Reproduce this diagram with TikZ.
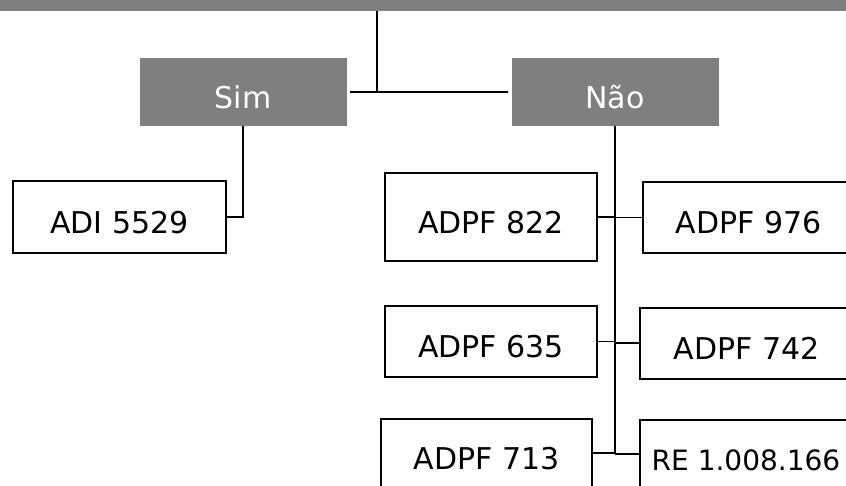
\documentclass[tikz,border=0pt]{standalone}
\usepackage{fontspec}
\setmainfont{DejaVu Sans}
\definecolor{cinza}{HTML}{7F7F7F}

\begin{document}
\begin{tikzpicture}[x=1pt,y=-1pt,
  cabeca/.style={fill=cinza,text=white,minimum width=207pt,minimum height=68pt,
    font=\fontsize{30}{35}\selectfont,text height=32pt,text depth=0pt},
  caixa/.style={draw,line width=2pt,fill=white,minimum height=71pt,
    font=\fontsize{30}{35}\selectfont,text height=32pt,text depth=0pt},
  liga/.style={line width=1.1pt}]
  \useasboundingbox (0,0) rectangle (846,485);
  \clip (0,0) rectangle (846,485);
  \node[fill=cinza,minimum width=900pt,minimum height=30pt] (tema) at (423,-4) {};
  \node[cabeca] (sim) at (243,92) {Sim};
  \node[cabeca] (nao) at (615,92) {Não};
  \node[caixa,minimum width=213pt,minimum height=72pt] (adi) at (119.5,217) {ADI 5529};
  \node[caixa,minimum width=212pt,minimum height=88pt] (p822) at (491,217) {ADPF 822};
  \node[caixa,minimum width=211pt] (p976) at (748.5,217.5) {ADPF 976};
  \node[caixa,minimum width=212pt] (p635) at (491,341.5) {ADPF 635};
  \node[caixa,minimum width=213pt] (p742) at (746.5,343) {ADPF 742};
  \node[caixa,minimum width=211pt,minimum height=68pt] (p713) at (486.5,453) {ADPF 713};
  \node[caixa,minimum width=212pt,minimum height=68pt,font=\fontsize{28}{33}\selectfont] (re) at (746,454) {RE 1.008.166};
  \coordinate (ramo) at (377,92);
  \coordinate (fim) at (nao.south |- p713.east);
  \draw[liga] (tema.south -| ramo) -- (ramo);
  \draw[liga,shorten <=3pt,shorten >=3pt] (sim.east) -- (nao.west);
  \draw[liga] (sim.south) |- (adi.east);
  \draw[liga] (nao.south) -- (fim);
  \foreach \n in {p822,p635,p713} \draw[liga] (\n.east) -- (\n.east -| nao.south);
  \foreach \n in {p976,p742,re} \draw[liga] (\n.west) -- (\n.west -| nao.south);
\end{tikzpicture}
\end{document}
